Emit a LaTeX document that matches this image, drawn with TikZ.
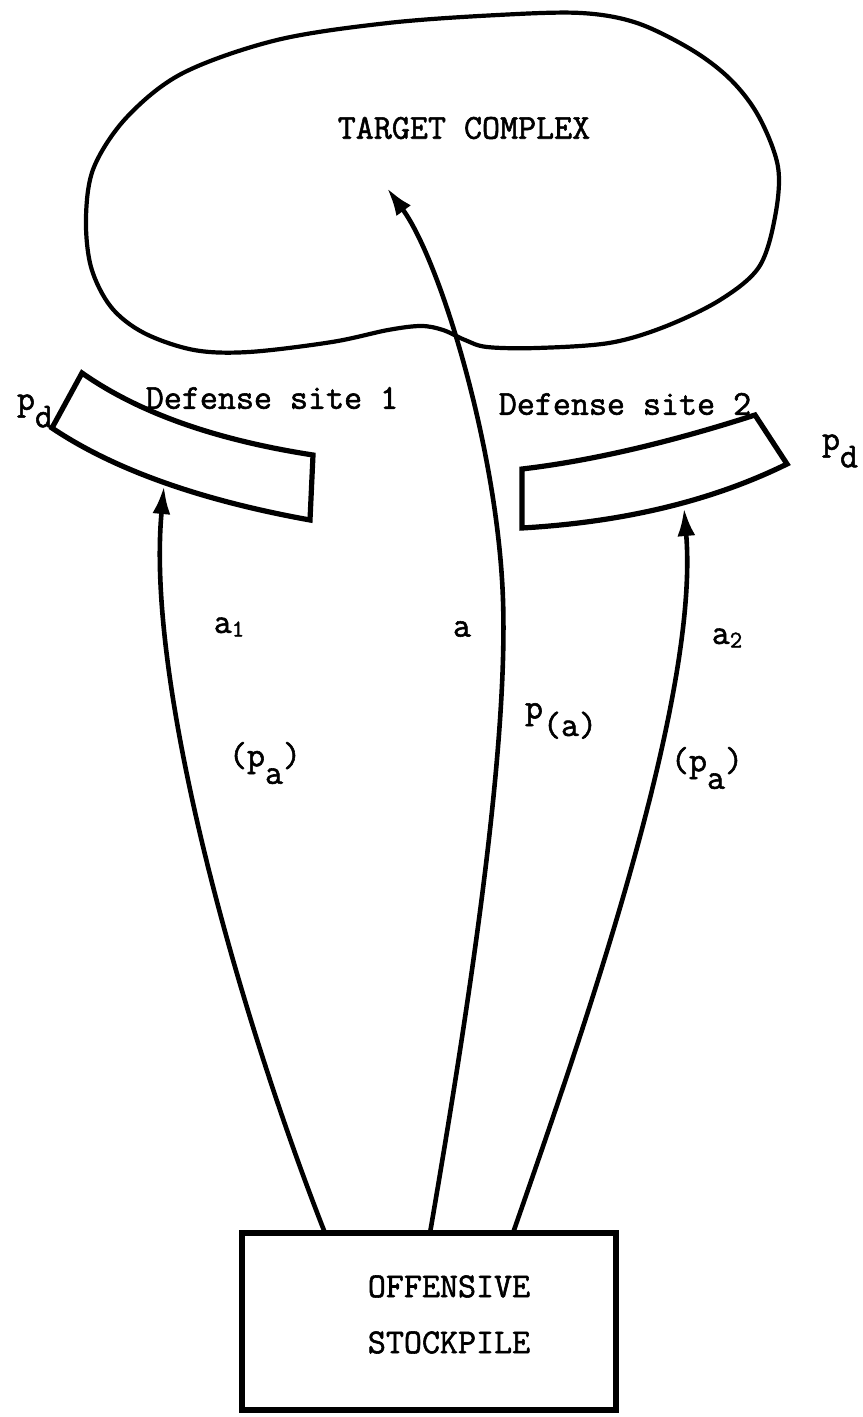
\documentclass[tikz,border=0pt]{standalone}
\usepackage{fontspec}
\newfontfamily\twfont{Latin Modern Mono}[FakeBold=1.6]
\usetikzlibrary{arrows.meta}
\begin{document}
\begin{tikzpicture}[x=0.5pt,y=-0.5pt,
  lbl/.style={font=\fontsize{17.5}{21}\selectfont\twfont, inner sep=0pt},
  outline/.style={line width=2.1pt, line join=round},
  boxline/.style={line width=2.6pt, line join=miter},
  arr/.style={line width=2.3pt, -{Latex[length=14pt,width=9pt]}}]
\useasboundingbox (0,0) rectangle (862,1417);

% target complex outline
\draw[outline] plot[smooth cycle, tension=0.55] coordinates {
  (581,13) (637,23) (692,50) (731,80) (759,117) (778,167) (775,217)
  (759,267) (720,300) (664,327) (609,343) (537,348) (487,347) (465,340)
  (443,330) (421,326) (388,330) (332,342) (249,352) (194,350) (144,333)
  (111,307) (91,267) (86,217) (94,167) (127,117) (183,73) (277,40)
  (388,23) (498,15)};
\node[lbl] (target) at (464,128) {TARGET COMPLEX};

% defense site 1
\draw[boxline] (82,373) .. controls (139,413) and (216,440) .. (313,455)
  -- (310,520) .. controls (199,500) and (113,469) .. (52,428) -- cycle;
\node[lbl] (ds1) at (272,398) {Defense site 1};
\node[lbl] (pd1) at (35,411) {p\raisebox{-0.5em}{d}};

% defense site 2
\draw[boxline] (522,469) .. controls (590,461) and (668,443) .. (755,415)
  -- (787,464) .. controls (714,500) and (626,522) .. (522,528) -- cycle;
\node[lbl] (ds2) at (625,404) {Defense site 2};
\node[lbl] (pd2) at (840,451) {p\raisebox{-0.5em}{d}};

% offensive stockpile
\node[draw, boxline, minimum width=187pt, minimum height=88.5pt, inner sep=0pt] (stock) at (429,1321.5) {};
\node[lbl, align=center] (stocktxt) at (449,1314.5) {OFFENSIVE\\[7pt]STOCKPILE};

% arrow end points
\coordinate (s1) at (325,1233);
\coordinate (sa) at (430,1233);
\coordinate (s2) at (513,1233);
\coordinate (t1) at (164,486);
\coordinate (ta) at (387,188);
\coordinate (t2) at (684,508);

\draw[arr] (s1) .. controls (245,1030) and (145,690) .. (t1);
\draw[arr] (sa) .. controls (470,1000) and (508,750) .. (503,600)
  .. controls (498,450) and (440,260) .. (ta);
\draw[arr] (s2) .. controls (580,1040) and (700,700) .. (t2);

% labels
\node[lbl] (la1) at (229,627) {a{\fontsize{12}{14}\selectfont\raisebox{-0.15em}{1}}};
\node[lbl] (la) at (462,629) {a};
\node[lbl] (la2) at (727,638) {a{\fontsize{12}{14}\selectfont\raisebox{-0.15em}{2}}};
\node[lbl] (lpa) at (561,721) {p\raisebox{-0.5em}{(a)}};
\node[lbl] (lpa1) at (265,763) {(p\raisebox{-0.5em}{a})};
\node[lbl] (lpa2) at (707,768) {(p\raisebox{-0.5em}{a})};
\end{tikzpicture}
\end{document}
